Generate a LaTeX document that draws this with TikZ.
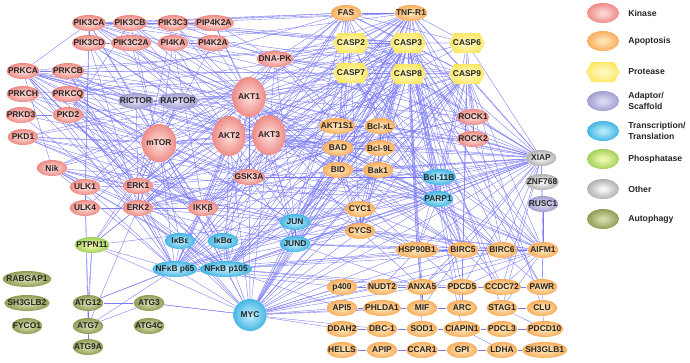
\documentclass[tikz,border=0pt]{standalone}
\usepackage{fontspec}
\setmainfont{Liberation Sans}
\usetikzlibrary{shapes,backgrounds}
\definecolor{kinout}{RGB}{232,108,102}
\definecolor{kinin}{RGB}{252,212,208}
\definecolor{apoout}{RGB}{245,152,58}
\definecolor{apoin}{RGB}{254,226,178}
\definecolor{proout}{RGB}{250,226,72}
\definecolor{proin}{RGB}{255,248,190}
\definecolor{adaout}{RGB}{136,134,192}
\definecolor{adain}{RGB}{218,216,242}
\definecolor{traout}{RGB}{22,160,218}
\definecolor{train}{RGB}{178,232,250}
\definecolor{phoout}{RGB}{130,192,56}
\definecolor{phoin}{RGB}{236,247,170}
\definecolor{othout}{RGB}{148,148,148}
\definecolor{othin}{RGB}{244,244,244}
\definecolor{autout}{RGB}{118,130,50}
\definecolor{autin}{RGB}{210,216,168}
\definecolor{linkcol}{RGB}{122,122,248}
\definecolor{glowin}{RGB}{255,255,255}
\definecolor{glowout}{RGB}{0,0,0}
\pgfdeclareradialshading[glowin,glowout]{glow}{\pgfpoint{0bp}{0bp}}{%
  color(0bp)=(glowin); color(4bp)=(glowin); color(34bp)=(glowout); color(70bp)=(glowout)}
\newcommand{\genefont}{\bfseries\fontsize{6.3}{7}\selectfont}

\begin{document}
\begin{tikzpicture}[x=0.75pt,y=-0.75pt,node distance=30pt]
    \tikzstyle{gene}=[ellipse,inner xsep=-2.5pt,inner ysep=0pt,minimum width=23pt,minimum height=12pt,font=\genefont,text=black!85,shading=glow]
    \tikzstyle{big}=[minimum width=25pt,minimum height=30pt]
    \tikzstyle{kinase}=[gene,/utils/exec={\colorlet{glowin}{kinin}\colorlet{glowout}{kinout}}]
    \tikzstyle{apop}=[gene,/utils/exec={\colorlet{glowin}{apoin}\colorlet{glowout}{apoout}}]
    \tikzstyle{adaptor}=[gene,/utils/exec={\colorlet{glowin}{adain}\colorlet{glowout}{adaout}}]
    \tikzstyle{transcr}=[gene,/utils/exec={\colorlet{glowin}{train}\colorlet{glowout}{traout}}]
    \tikzstyle{phosph}=[gene,/utils/exec={\colorlet{glowin}{phoin}\colorlet{glowout}{phoout}}]
    \tikzstyle{other}=[gene,/utils/exec={\colorlet{glowin}{othin}\colorlet{glowout}{othout}}]
    \tikzstyle{autoph}=[gene,/utils/exec={\colorlet{glowin}{autin}\colorlet{glowout}{autout}}]
    \tikzstyle{protease}=[signal,signal to=east and west,signal pointer angle=125,inner xsep=-1pt,inner ysep=0pt,minimum width=25pt,minimum height=15pt,font=\genefont,text=black!85,shading=glow,/utils/exec={\colorlet{glowin}{proin}\colorlet{glowout}{proout}}]
    \tikzstyle{link}=[draw=linkcol,line width=0.28pt]
    \tikzstyle{legtext}=[anchor=west,align=left,inner sep=0pt,font=\bfseries\fontsize{6.5}{7.8}\selectfont,text=black!85]

    \useasboundingbox (0,0) rectangle (690,362);

    % kinases
    \node(pikca)  [kinase] at (89,23) {PIK3CA};
    \node(pikcb)  [kinase] at (130,23) {PIK3CB};
    \node(pikc3)  [kinase] at (173,23) {PIK3C3};
    \node(pip4k)  [kinase] at (214,23) {PIP4K2A};
    \node(pikcd)  [kinase] at (89,43) {PIK3CD};
    \node(pikc2a) [kinase] at (131,43) {PIK3C2A};
    \node(pi4ka)  [kinase] at (173,43) {PI4KA};
    \node(pi4k2a) [kinase] at (213,43) {PI4K2A};
    \node(prkca)  [kinase] at (23,71) {PRKCA};
    \node(prkcb)  [kinase] at (68,71) {PRKCB};
    \node(prkch)  [kinase] at (23,94) {PRKCH};
    \node(prkcq)  [kinase] at (68,94) {PRKCQ};
    \node(prkd3)  [kinase] at (21,115) {PRKD3};
    \node(pkd2)   [kinase] at (68,115) {PKD2};
    \node(pkd1)   [kinase] at (23,137) {PKD1};
    \node(dnapk)  [kinase] at (275,59) {DNA-PK};
    \node(akt1)   [kinase,big] at (249,97) {AKT1};
    \node(mtor)   [kinase,big,minimum width=26pt,minimum height=28.5pt] at (159,143) {mTOR};
    \node(akt2)   [kinase,big] at (229,136) {AKT2};
    \node(akt3)   [kinase,big] at (269,135) {AKT3};
    \node(gsk3a)  [kinase] at (249,177) {GSK3A};
    \node(nik)    [kinase] at (52,168) {Nik};
    \node(ulk1)   [kinase] at (85,187) {ULK1};
    \node(erk1)   [kinase] at (138,186) {ERK1};
    \node(ulk4)   [kinase] at (85,208) {ULK4};
    \node(erk2)   [kinase] at (138,208) {ERK2};
    \node(ikkb)   [kinase] at (203,208) {IKKβ};
    \node(rock1)  [kinase] at (473,117) {ROCK1};
    \node(rock2)  [kinase] at (473,139) {ROCK2};

    % adaptors and others
    \node(rictor) [adaptor] at (136,101) {RICTOR};
    \node(raptor) [adaptor] at (178,101) {RAPTOR};
    \node(xiap)   [other] at (541,158) {XIAP};
    \node(znf768) [other] at (542,182) {ZNF768};
    \node(rusc1)  [adaptor] at (543,204) {RUSC1};
    \node(ptpn11) [phosph] at (92,245) {PTPN11};

    % proteases and apoptosis
    \node(fas)    [apop] at (346,13) {FAS};
    \node(tnfr1)  [apop] at (411,13) {TNF-R1};
    \node(casp2)  [protease] at (351,43) {CASP2};
    \node(casp3)  [protease] at (408,43) {CASP3};
    \node(casp6)  [protease] at (467,43) {CASP6};
    \node(casp7)  [protease] at (351,73) {CASP7};
    \node(casp8)  [protease] at (408,74) {CASP8};
    \node(casp9)  [protease] at (467,74) {CASP9};
    \node(akt1s1) [apop] at (337,126) {AKT1S1};
    \node(bclxl)  [apop] at (380,126) {Bcl-xL};
    \node(bad)    [apop] at (338,148) {BAD};
    \node(bcl9l)  [apop] at (380,148) {Bcl-9L};
    \node(bid)    [apop] at (338,170) {BID};
    \node(bak1)   [apop] at (378,170) {Bak1};
    \node(cyc1)   [apop] at (360,209) {CYC1};
    \node(cycs)   [apop] at (360,231) {CYCS};
    \node(hsp90b1)[apop] at (417,250) {HSP90B1};
    \node(birc5)  [apop] at (463,250) {BIRC5};
    \node(birc6)  [apop] at (502,250) {BIRC6};
    \node(aifm1)  [apop] at (543,250) {AIFM1};
    \node(p400)   [apop] at (342,287) {p400};
    \node(nudt2)  [apop,right of=p400] {NUDT2};
    \node(anxa5)  [apop,right of=nudt2] {ANXA5};
    \node(pdcd5)  [apop,right of=anxa5] {PDCD5};
    \node(ccdc72) [apop,right of=pdcd5] {CCDC72};
    \node(pawr)   [apop,right of=ccdc72] {PAWR};
    \node(api5)   [apop] at (342,308) {API5};
    \node(phlda1) [apop,right of=api5] {PHLDA1};
    \node(mif)    [apop,right of=phlda1] {MIF};
    \node(arc)    [apop,right of=mif] {ARC};
    \node(stag1)  [apop,right of=arc] {STAG1};
    \node(clu)    [apop,right of=stag1] {CLU};
    \node(ddah2)  [apop] at (342,329) {DDAH2};
    \node(dbc1)   [apop,right of=ddah2] {DBC-1};
    \node(sod1)   [apop,right of=dbc1] {SOD1};
    \node(ciapin1)[apop,right of=sod1] {CIAPIN1};
    \node(pdcl3)  [apop,right of=ciapin1] {PDCL3};
    \node(pdcd10) [apop,right of=pdcl3,xshift=2pt] {PDCD10};
    \node(hells)  [apop] at (342,350) {HELLS};
    \node(apip)   [apop,right of=hells] {APIP};
    \node(ccar1)  [apop,right of=apip] {CCAR1};
    \node(gpi)    [apop,right of=ccar1] {GPI};
    \node(ldha)   [apop,right of=gpi] {LDHA};
    \node(sh3glb1)[apop,right of=ldha,xshift=2pt] {SH3GLB1};

    % transcription / translation
    \node(bcl11b) [transcr] at (439,177) {Bcl-11B};
    \node(parp1)  [transcr] at (438,199) {PARP1};
    \node(jun)    [transcr] at (295,222) {JUN};
    \node(jund)   [transcr] at (295,244) {JUND};
    \node(ikbe)   [transcr] at (180,241) {IκBε};
    \node(ikba)   [transcr] at (223,241) {IκBα};
    \node(p65)    [transcr] at (175,269) {NFκB p65};
    \node(p105)   [transcr] at (226,269) {NFκB p105};
    \node(myc)    [transcr,big,minimum height=24pt] at (250,315) {MYC};

    % autophagy
    \node(rabgap1)[autoph] at (27,279) {RABGAP1};
    \node(sh3glb2)[autoph] at (27,303) {SH3GLB2};
    \node(fyco1)  [autoph] at (27,326) {FYCO1};
    \node(atg12)  [autoph] at (88,303) {ATG12};
    \node(atg7)   [autoph] at (88,326) {ATG7};
    \node(atg9a)  [autoph] at (88,347) {ATG9A};
    \node(atg3)   [autoph] at (149,303) {ATG3};
    \node(atg4c)  [autoph] at (149,326) {ATG4C};

    % legend
    \node(lkin) [kinase,minimum width=24pt,minimum height=15pt] at (603,13) {};
    \node(lapo) [apop,minimum width=24pt,minimum height=15pt] at (603,41) {};
    \node(lpro) [protease,minimum width=25pt] at (603,72) {};
    \node(lada) [adaptor,minimum width=24pt,minimum height=15pt] at (603,101) {};
    \node(ltra) [transcr,minimum width=24pt,minimum height=15pt] at (603,131) {};
    \node(lpho) [phosph,minimum width=24pt,minimum height=15pt] at (603,159) {};
    \node(loth) [other,minimum width=24pt,minimum height=15pt] at (603,189) {};
    \node(laut) [autoph,minimum width=24pt,minimum height=15pt] at (603,219) {};
    \node [legtext] at (628,13) {Kinase};
    \node [legtext] at (628,41) {Apoptosis};
    \node [legtext] at (628,72) {Protease};
    \node [legtext] at (628,101) {Adaptor/\\Scaffold};
    \node [legtext] at (628,131) {Transcription/\\Translation};
    \node [legtext] at (628,159) {Phosphatase};
    \node [legtext] at (628,189) {Other};
    \node [legtext] at (628,219) {Autophagy};

    \begin{scope}[on background layer]
    \foreach \hub/\nbrs in {
      akt1/{pikca,pikcb,pikc3,pikcd,pikc2a,pi4ka,pip4k,pi4k2a,prkca,prkcb,prkcq,pkd1,nik,mtor,rictor,raptor,akt2,akt3,gsk3a,dnapk,casp3,casp9,casp7,bad,akt1s1,bclxl,bid,ikkb,erk1,erk2,p65,p105,myc,xiap,parp1,jun,jund,rock1,fas,tnfr1,casp8,cycs,hsp90b1,birc5,ikba},
      akt2/{pikca,pikcb,pikcd,pikc2a,pi4ka,prkca,prkch,pkd2,mtor,akt3,gsk3a,bad,casp9,ikkb,erk1,erk2,ulk1,p65,p105,myc,xiap,jun,rictor,akt1s1,bcl9l,tnfr1,casp3,hsp90b1},
      akt3/{pikca,pikcb,pip4k,pikc3,mtor,gsk3a,bad,casp9,casp3,bak1,ikkb,p65,p105,jund,myc,xiap,rock2,bid,parp1,bcl11b,casp2,casp8,dnapk,prkca,birc5,aifm1},
      mtor/{pikca,pikcb,pikcd,pikc2a,pi4ka,pi4k2a,prkca,prkcb,prkch,prkcq,prkd3,pkd1,pkd2,nik,ulk1,ulk4,erk1,erk2,rictor,raptor,akt1s1,ikkb,p65,p105,myc,ikba,ikbe,gsk3a,dnapk,casp3,bad,jun,hsp90b1,casp8,ptpn11},
      p65/{nik,ikkb,ikba,ikbe,p105,myc,jun,jund,erk1,erk2,prkca,prkcb,prkcq,ulk1,casp3,casp8,bclxl,xiap,birc5,tnfr1,fas,parp1,atg12,cyc1,gsk3a,anxa5,p400},
      p105/{nik,ikkb,ikba,ikbe,myc,jun,jund,erk1,erk2,prkca,prkcq,casp3,casp8,bclxl,xiap,birc5,tnfr1,parp1,bad,bid,cycs,hsp90b1,bcl9l,aifm1,pdcd5,anxa5,api5,casp7},
      myc/{jun,jund,ikba,ikbe,erk1,erk2,casp3,casp8,bclxl,bad,bak1,cyc1,cycs,parp1,xiap,birc5,birc6,hsp90b1,p400,api5,ddah2,nudt2,phlda1,dbc1,anxa5,mif,aifm1,atg3,ptpn11,tnfr1,casp9,bid},
      jun/{jund,erk1,erk2,ikkb,casp3,casp8,casp9,bclxl,bad,bid,tnfr1,fas,xiap,parp1,bcl11b,rock1,aifm1,birc5,cyc1,casp2},
      jund/{erk1,erk2,casp3,bclxl,xiap,parp1,birc5,aifm1,casp9,bak1,cycs,anxa5,hsp90b1},
      casp3/{casp2,casp6,casp7,casp8,casp9,fas,tnfr1,bad,bid,bclxl,bcl9l,bak1,akt1s1,xiap,parp1,birc5,birc6,aifm1,rock1,rock2,dnapk,cycs,cyc1,hsp90b1,anxa5,prkca,prkcq,pkd1,pikca,pikcb,pikc3,gsk3a,ikkb,erk1,erk2,bcl11b,pdcd5,sod1,mif,stag1,ciapin1,arc,pawr},
      casp8/{fas,tnfr1,casp2,casp6,casp7,casp9,bid,bad,bclxl,bak1,xiap,parp1,birc5,aifm1,rock1,pkd2,prkcb,dnapk,cycs,gsk3a,hsp90b1,ikkb,ccdc72,pawr},
      casp9/{casp2,casp6,casp7,fas,tnfr1,bad,bid,bclxl,bak1,cycs,cyc1,xiap,parp1,birc5,birc6,aifm1,rock1,rock2,dnapk,hsp90b1,prkca,pikca,pdcd5,clu},
      casp7/{fas,tnfr1,casp2,casp6,bid,bclxl,xiap,parp1,birc5,birc6,aifm1,dnapk,pikcb,prkch,cycs,ikkb,erk2},
      casp2/{fas,tnfr1,casp6,bid,bad,dnapk,xiap,parp1,pikc3,prkcb},
      casp6/{fas,tnfr1,parp1,xiap,rock1,birc5},
      fas/{tnfr1,bid,bad,bclxl,dnapk,pikcb,pikca,erk1,ikkb,prkcq,gsk3a,parp1},
      tnfr1/{bid,bad,bclxl,bcl9l,xiap,dnapk,pikca,pikc3,pi4ka,erk2,nik,ikkb,parp1,birc5,rock1,rock2},
      xiap/{znf768,bad,bid,bclxl,bak1,bcl11b,parp1,birc5,birc6,aifm1,hsp90b1,cycs,cyc1,rock1,rock2,erk2,ikkb,gsk3a,pdcd5,anxa5,ccdc72,stag1,pikca,prkca},
      rusc1/{znf768,aifm1},
      bad/{bid,bclxl,bcl9l,bak1,akt1s1,cycs,erk1,erk2,pkd1,prkca,prkcq,gsk3a,parp1,bcl11b,pikcd,rock1},
      bclxl/{bid,bak1,bcl9l,akt1s1,cycs,parp1,birc5,aifm1,erk1,ikkb,rock2,bcl11b},
      bid/{bak1,cycs,cyc1,parp1,aifm1,erk2,bcl11b,birc5},
      bak1/{cycs,bcl9l,parp1,bcl11b,birc6},
      cyc1/{cycs,gsk3a,birc5,ikba,erk2},
      cycs/{hsp90b1,aifm1,birc6,anxa5,ikba},
      parp1/{bcl11b,aifm1,birc5,birc6,hsp90b1,pawr,ccdc72,prkca,pikca,pkd1,nik,erk1},
      birc5/{hsp90b1,birc6,aifm1,anxa5,pdcd5,ccdc72,arc,mif},
      aifm1/{birc6,pawr,ccdc72,pdcd5,hsp90b1,anxa5,clu,stag1},
      hsp90b1/{anxa5,nudt2,pdcd5},
      anxa5/{mif,pdcd5,nudt2},
      pdcd5/{ccdc72,arc},
      mif/{arc,phlda1},
      stag1/{clu,pdcd10},
      ciapin1/{pdcl3,ldha,sod1},
      ldha/{gpi,sh3glb1},
      pdcd10/{clu,pdcl3},
      ccdc72/{pawr},
      ccar1/{gpi,apip},
      dbc1/{sod1,ddah2},
      api5/{phlda1},
      p400/{nudt2},
      hells/{apip},
      pikca/{pikcb,pikcd,rictor,prkca,ulk4,rock1},
      pikcb/{pikc3,pkd2},
      pikc3/{pip4k,erk1,dnapk},
      pikcd/{pikc2a,raptor,erk2,ulk1},
      pikc2a/{gsk3a},
      pi4ka/{pi4k2a,ikkb,dnapk},
      pip4k/{dnapk},
      prkca/{prkcb,nik,erk1,erk2,ikkb,gsk3a,raptor},
      prkcb/{erk1,ikkb,rictor},
      prkch/{ikkb,erk2},
      prkcq/{erk1,ikkb,ikba,jun},
      prkd3/{pkd2,erk2},
      pkd2/{erk1,ikkb},
      pkd1/{erk1,ikkb,gsk3a,jun},
      nik/{ikkb,ikba,ikbe,ulk1,erk1,erk2,jun},
      ulk1/{ulk4,erk1,atg12,atg7,raptor},
      ulk4/{erk2},
      erk1/{erk2,ikkb,gsk3a,raptor,rictor},
      erk2/{ikkb,ikbe,ptpn11,gsk3a},
      ikkb/{ikba,ikbe,gsk3a},
      ptpn11/{atg12,atg7,erk1,erk2,p65,jun},
      atg12/{atg7,atg3,atg9a,p65},
      atg7/{atg3,atg9a,p65,erk2},
      atg3/{myc},
      dnapk/{akt1s1,xiap,parp1,p65,erk1,jun},
      rock1/{rock2,bad},
      rock2/{xiap},
      rictor/{raptor,prkca,prkcb,gsk3a},
      raptor/{akt1s1,erk2},
      gsk3a/{ikba,jund,bcl11b},
      bcl11b/{aifm1},
      znf768/{xiap}}
      {\foreach \t in \nbrs {\draw [link] (\hub) -- (\t);}}
    \end{scope}

\end{tikzpicture}
\end{document}
